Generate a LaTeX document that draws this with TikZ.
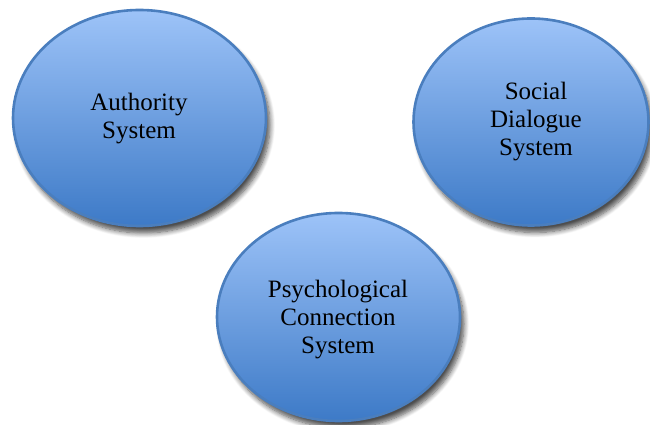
\documentclass[tikz,border=0pt]{standalone}
\usepackage{fontspec}
\setmainfont{Liberation Serif}
\usetikzlibrary{shapes.geometric,shadows.blur}
\definecolor{topblue}{HTML}{9DC3F8}
\definecolor{botblue}{HTML}{3D7AC7}
\definecolor{edgeblue}{HTML}{4A7EBE}
\tikzset{
  sysellipse/.style={ellipse, draw=edgeblue, line width=2.6pt,
    top color=topblue, bottom color=botblue, inner sep=0pt,
    blur shadow={shadow xshift=4pt, shadow yshift=-7pt, shadow blur steps=8, shadow opacity=70, shadow blur radius=5pt}},
  systext/.style={align=center, font=\fontsize{25}{28}\selectfont, text=black}
}
\begin{document}
\begin{tikzpicture}[x=1pt,y=1pt]
\useasboundingbox (0,0) rectangle (650,425);
\node[sysellipse, minimum width=253pt, minimum height=216pt] (auth) at (139.5,307) {};
\node[sysellipse, minimum width=235pt, minimum height=207pt] (social) at (531,303) {};
\node[sysellipse, minimum width=243pt, minimum height=208pt] (psych) at (338.5,108) {};
\node[systext] (authT) at (139,306) {Authority\\System};
\node[systext] (socialT) at (536,303) {Social\\Dialogue\\System};
\node[systext] (psychT) at (338,105) {Psychological\\Connection\\System};
\end{tikzpicture}
\end{document}
